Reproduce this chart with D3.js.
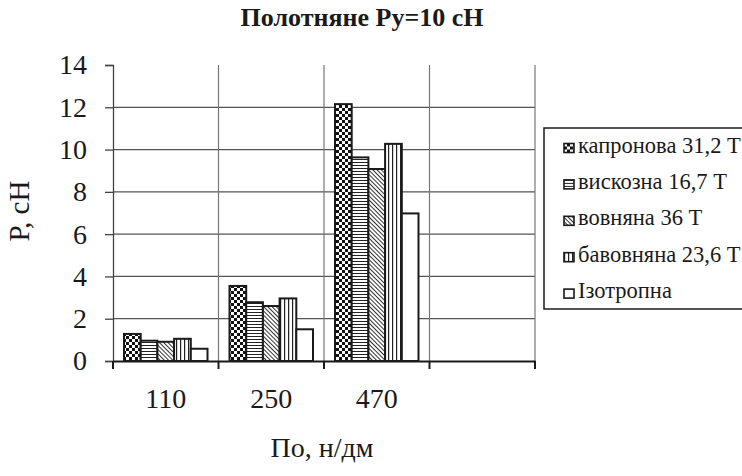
<!DOCTYPE html>
<html><head><meta charset="utf-8">
<script src="https://cdn.jsdelivr.net/npm/d3@7/dist/d3.min.js"></script>
<style>body{margin:0;background:#fff}svg{display:block}</style>
</head><body>
<svg id="c" width="742" height="476"></svg>
<script>
const categories = ["110", "250", "470", ""];
const seriesNames = ["капронова 31,2 Т", "вискозна 16,7 Т", "вовняна 36 Т", "бавовняна 23,6 Т", "Ізотропна"];
const kapron = [1.28, 3.55, 12.15, null];
const viscose = [0.96, 2.78, 9.63, null];
const wool = [0.91, 2.6, 9.08, null];
const cotton = [1.05, 2.96, 10.27, null];
const isotropic = [0.58, 1.5, 6.98, null];
const yTicks = [0, 2, 4, 6, 8, 10, 12, 14];
const titleText = "Полотняне Ру=10 сН";
const xTitle = "По, н/дм";
const yTitle = "Р, сН";

const seriesValues = [kapron, viscose, wool, cotton, isotropic];
const patternIds = ["p-checker", "p-hline", "p-diag", "p-vline", null];

const FONT = '"Liberation Serif", "Times New Roman", Tinos, serif';
const INK = "#1a1a1a";
const svg = d3.select("#c");
const defs = svg.append("defs");

// patterns
let p = defs.append("pattern").attr("id", "p-checker").attr("patternUnits", "userSpaceOnUse").attr("width", 6).attr("height", 6);
p.append("rect").attr("width", 6).attr("height", 6).attr("fill", "#fff");
p.append("rect").attr("width", 3).attr("height", 3).attr("fill", "#111");
p.append("rect").attr("x", 3).attr("y", 3).attr("width", 3).attr("height", 3).attr("fill", "#111");

p = defs.append("pattern").attr("id", "p-hline").attr("patternUnits", "userSpaceOnUse").attr("width", 4).attr("height", 3);
p.append("rect").attr("width", 4).attr("height", 3).attr("fill", "#fff");
p.append("rect").attr("y", 0).attr("width", 4).attr("height", 1).attr("fill", "#222");

p = defs.append("pattern").attr("id", "p-diag").attr("patternUnits", "userSpaceOnUse").attr("width", 3).attr("height", 3).attr("patternTransform", "rotate(45)");
p.append("rect").attr("width", 3).attr("height", 3).attr("fill", "#fff");
p.append("rect").attr("width", 3).attr("height", 1).attr("fill", "#333");

p = defs.append("pattern").attr("id", "p-vline").attr("patternUnits", "userSpaceOnUse").attr("width", 4).attr("height", 4);
p.append("rect").attr("width", 4).attr("height", 4).attr("fill", "#fff");
p.append("rect").attr("x", 0).attr("width", 1.2).attr("height", 4).attr("fill", "#222");

const mLeft = 113, mRight = 535, mTop = 65, mBottom = 361;

const x = d3.scaleBand().domain(categories).range([mLeft, mRight]).paddingInner(0).paddingOuter(0);
const groupW = 83.5;
const xs = d3.scaleBand().domain(d3.range(seriesNames.length)).range([0, groupW]).padding(0);
const y = d3.scaleLinear().domain([0, 14]).range([mBottom, mTop]);

// gridlines horizontal
svg.append("g").selectAll("line").data(yTicks.filter(t => t > 0 && t < 14)).join("line")
  .attr("x1", mLeft).attr("x2", mRight).attr("y1", d => y(d)).attr("y2", d => y(d))
  .attr("stroke", "#555").attr("stroke-width", 1.3);
// gridlines vertical (category boundaries)
const bounds = categories.slice(1).map(c => x(c)).concat([mRight]);
svg.append("g").selectAll("line").data(bounds).join("line")
  .attr("x1", d => d).attr("x2", d => d).attr("y1", mTop).attr("y2", mBottom)
  .attr("stroke", "#777").attr("stroke-width", 1.2);

// bars
const barData = [];
categories.forEach((c, ci) => {
  seriesValues.forEach((vals, si) => {
    if (vals[ci] != null) barData.push({ c, si, v: vals[ci] });
  });
});
svg.append("g").selectAll("rect").data(barData).join("rect")
  .attr("x", d => x(d.c) + (x.bandwidth() - groupW) / 2 + xs(d.si))
  .attr("y", d => y(d.v))
  .attr("width", xs.bandwidth())
  .attr("height", d => y(0) - y(d.v))
  .attr("fill", d => patternIds[d.si] ? `url(#${patternIds[d.si]})` : "#fff")
  .attr("stroke", INK).attr("stroke-width", 2);

// y axis
const yAxis = svg.append("g").attr("transform", `translate(${mLeft},0)`)
  .call(d3.axisLeft(y).tickValues(yTicks).tickSize(8).tickPadding(18));
yAxis.select(".domain").attr("stroke", "#444").attr("stroke-width", 1.3);
yAxis.selectAll(".tick line").attr("stroke", "#444").attr("stroke-width", 1.3);
yAxis.selectAll("text").style("font-family", FONT).style("font-size", "28px").attr("fill", INK);

// x axis
const xAxis = svg.append("g").attr("transform", `translate(0,${mBottom})`)
  .call(d3.axisBottom(x).tickSize(0).tickPadding(27));
xAxis.select(".domain").attr("stroke", INK).attr("stroke-width", 2.2);
xAxis.selectAll("text").style("font-family", FONT).style("font-size", "28px").attr("fill", INK);
// x tick marks at category boundaries
svg.append("g").selectAll("line").data([mLeft].concat(bounds)).join("line")
  .attr("x1", d => d).attr("x2", d => d).attr("y1", mBottom).attr("y2", mBottom + 8)
  .attr("stroke", INK).attr("stroke-width", 2);

// titles
svg.append("text").attr("x", 362).attr("y", 26).attr("text-anchor", "middle")
  .style("font-family", FONT).style("font-weight", "bold").style("font-size", "26px").attr("fill", INK)
  .text(titleText);
svg.append("text").attr("x", 322).attr("y", 457).attr("text-anchor", "middle")
  .style("font-family", FONT).style("font-size", "28px").attr("fill", INK).text(xTitle);
svg.append("text").attr("transform", "translate(29,211) rotate(-90)").attr("text-anchor", "middle")
  .style("font-family", FONT).style("font-size", "29px").attr("fill", INK).text(yTitle);

// legend
const lg = svg.append("g");
lg.append("rect").attr("x", 544).attr("y", 128).attr("width", 210).attr("height", 181)
  .attr("fill", "#fff").attr("stroke", INK).attr("stroke-width", 1.5);
const items = lg.selectAll("g.item").data(seriesNames).join("g").attr("class", "item")
  .attr("transform", (d, i) => `translate(0,${152.5 + i * 36.4})`);
items.append("rect").attr("x", 564).attr("y", -9).attr("width", 10).attr("height", 9)
  .attr("fill", (d, i) => patternIds[i] ? `url(#${patternIds[i]})` : "#fff")
  .attr("stroke", INK).attr("stroke-width", 1.6);
items.append("text").attr("x", 578).attr("y", 0)
  .style("font-family", FONT).style("font-size", "22.5px").attr("fill", INK).text(d => d);
</script>
</body></html>
